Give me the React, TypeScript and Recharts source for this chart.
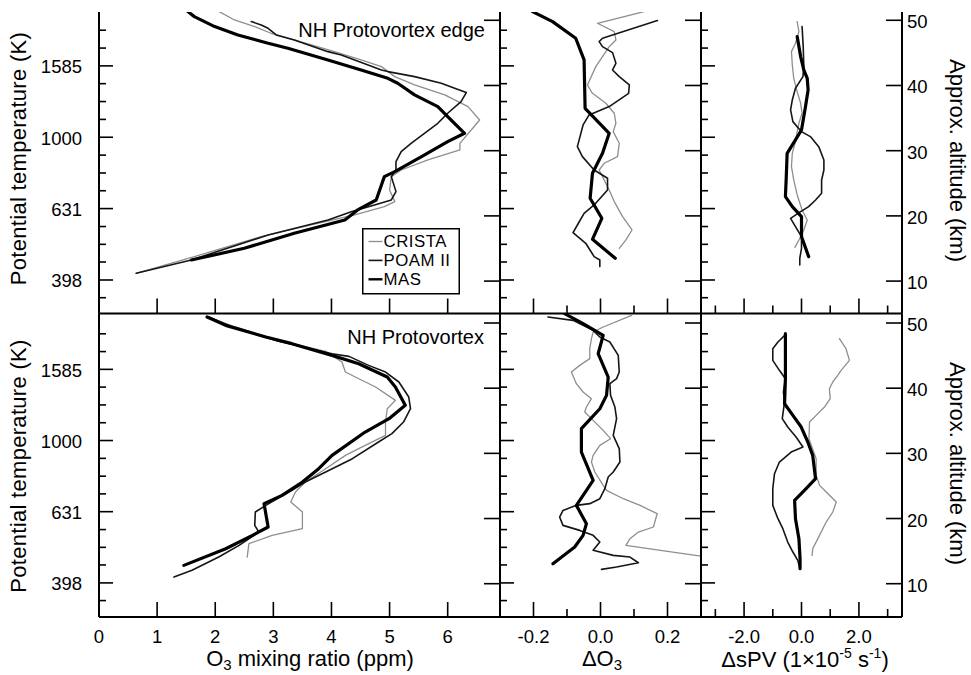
import React from 'react';
import { ScatterChart, Scatter, XAxis, YAxis, Legend } from 'recharts';

type Pt = [number, number]; // [value, approx. altitude in km]

const FONT = '"Liberation Sans", Arial, Helvetica, sans-serif';

// tick values
const thetaTicks = [355, 398, 447, 501, 562, 631, 708, 794, 891, 1000, 1122, 1259, 1413, 1585, 1778, 1995];
const thetaLabels = [398, 631, 1000, 1585];
const altTicks = [10, 20, 30, 40, 50];
const o3Ticks = [0, 1, 2, 3, 4, 5, 6];
const dO3Ticks = [-0.2, -0.1, 0, 0.1, 0.2];
const dO3Labels = [-0.2, 0, 0.2];
const dPvTicks = [-3, -2, -1, 0, 1, 2, 3];
const dPvLabels = [-2, 0, 2];

const seriesNames = ['CRISTA', 'POAM II', 'MAS'];

// NH Protovortex edge: O3 mixing ratio (ppm)
const edgeO3Crista: Pt[] = [[2.07, 51.33], [2.33, 50.05], [2.68, 49.03], [2.96, 48.01], [3.36, 46.98], [4.05, 45.19], [4.51, 43.92], [4.86, 42.89], [5.09, 41.36], [5.43, 40.08], [5.95, 38.55], [6.35, 36.76], [6.55, 34.71], [6.21, 31.13], [6.21, 30.11], [5.66, 28.58], [5.2, 27.04], [5.03, 26.02], [5.0, 23.98], [5.09, 22.19], [4.91, 21.42], [4.4, 20.14], [3.65, 18.61], [2.79, 16.82], [1.64, 13.75], [0.64, 11.2]];
const edgeO3Poam: Pt[] = [[2.62, 49.8], [2.79, 49.28], [2.91, 48.77], [3.05, 47.75], [3.36, 46.98], [3.94, 45.19], [4.17, 44.68], [4.4, 43.92], [4.86, 42.38], [4.97, 42.13], [5.43, 41.36], [5.89, 40.34], [6.12, 39.57], [6.32, 38.91], [6.23, 37.53], [6.0, 35.74], [5.83, 34.2], [5.6, 32.67], [5.37, 31.13], [5.2, 29.86], [5.11, 28.32], [5.11, 27.04], [5.03, 26.02], [5.11, 23.72], [5.03, 22.44], [4.74, 21.68], [4.34, 20.65], [3.94, 19.38], [2.91, 17.08], [1.59, 13.24], [0.64, 11.2]];
const edgeO3Mas: Pt[] = [[1.53, 51.33], [1.64, 50.56], [1.99, 49.03], [2.39, 47.75], [2.91, 46.47], [3.25, 45.71], [3.94, 43.92], [4.51, 42.38], [4.97, 41.1], [5.14, 40.34], [5.43, 38.55], [5.83, 36.76], [6.0, 35.22], [6.29, 32.67], [6.0, 31.39], [5.55, 29.09], [5.09, 26.79], [4.91, 26.02], [4.86, 24.74], [4.77, 22.44], [4.45, 20.91], [4.23, 19.38], [3.36, 17.33], [2.5, 15.03], [1.59, 13.24]];

// NH Protovortex edge: delta O3
const edgeDO3Crista: Pt[] = [[0.13, 51.33], [-0.009, 49.54], [0.041, 48.26], [0.046, 46.98], [0.026, 45.96], [-0.014, 42.89], [-0.039, 40.08], [-0.024, 38.8], [0.016, 37.27], [0.041, 35.74], [0.046, 34.2], [0.038, 32.92], [0.056, 31.13], [0.051, 29.09], [0.011, 28.07], [-0.004, 27.04], [0.006, 26.02], [0.026, 23.98], [0.041, 22.19], [0.066, 19.89], [0.094, 17.84], [0.076, 16.31], [0.056, 15.03]];
const edgeDO3Poam: Pt[] = [[0.17, 49.95], [0.006, 47.24], [-0.004, 46.73], [0.006, 45.96], [0.036, 45.04], [0.046, 43.4], [0.036, 42.38], [0.056, 41.36], [0.086, 40.08], [0.084, 38.8], [0.026, 36.76], [-0.034, 35.48], [-0.052, 33.95], [-0.069, 30.62], [-0.054, 29.09], [-0.019, 27.04], [0.021, 25.77], [0.021, 23.98], [-0.019, 21.68], [-0.049, 20.4], [-0.066, 18.87], [-0.082, 17.43], [-0.044, 15.8], [-0.019, 13.75], [-0.002, 13.24], [-0.002, 12.22]];
const edgeDO3Mas: Pt[] = [[-0.203, 51.33], [-0.143, 49.8], [-0.074, 47.24], [-0.049, 43.92], [-0.046, 36.5], [0.026, 32.67], [0.006, 29.6], [-0.024, 26.53], [-0.031, 22.7], [0.004, 19.63], [-0.024, 16.41], [0.044, 13.5]];

// NH Protovortex edge: delta sPV
const edgeDPvCrista: Pt[] = [[-0.15, 49.8], [-0.09, 48.26], [-0.21, 46.47], [-0.35, 45.19], [-0.32, 43.15], [-0.27, 41.1], [-0.15, 39.06], [-0.03, 37.27], [0.02, 35.74], [-0.09, 34.2], [-0.15, 32.92], [-0.21, 31.39], [-0.32, 29.6], [-0.35, 27.56], [-0.27, 25.51], [-0.15, 23.21], [0.02, 20.91], [0.2, 19.38], [0.08, 17.84], [-0.09, 16.31], [-0.23, 15.18]];
const edgeDPvPoam: Pt[] = [[0.02, 49.03], [0.06, 45.96], [0.08, 42.89], [0.05, 41.36], [-0.21, 39.57], [-0.32, 37.78], [-0.38, 36.25], [-0.3, 34.46], [0.0, 32.92], [0.31, 32.16], [0.6, 30.62], [0.78, 28.58], [0.78, 27.04], [0.7, 25.51], [0.7, 23.47], [0.49, 22.44], [0.25, 21.42], [-0.03, 20.65], [-0.38, 19.63], [-0.21, 18.35], [0.0, 16.82], [0.0, 15.03], [-0.06, 13.5], [-0.06, 12.47]];
const edgeDPvMas: Pt[] = [[-0.15, 47.49], [-0.03, 44.43], [0.08, 42.38], [0.2, 41.1], [0.23, 39.31], [0.14, 36.76], [0.0, 33.18], [-0.21, 31.65], [-0.5, 29.6], [-0.53, 26.02], [-0.56, 22.96], [-0.32, 21.42], [0.0, 19.89], [0.0, 16.82], [0.25, 13.75]];

// NH Protovortex: O3 mixing ratio (ppm)
const vortexO3Crista: Pt[] = [[1.89, 50.92], [2.35, 49.39], [3.09, 47.34], [3.9, 45.65], [4.18, 44.02], [4.24, 42.48], [4.41, 41.71], [4.76, 40.18], [5.1, 38.13], [4.96, 36.85], [4.93, 34.81], [4.93, 32.76], [4.58, 31.23], [4.24, 29.69], [3.9, 27.65], [3.55, 25.6], [3.38, 24.07], [3.3, 22.53], [3.5, 21.0], [3.5, 18.44], [2.98, 17.42], [2.58, 16.14], [2.55, 14.09]];
const vortexO3Poam: Pt[] = [[1.89, 50.92], [2.29, 49.39], [3.09, 47.19], [4.01, 45.29], [4.3, 44.88], [4.64, 43.5], [4.93, 42.48], [5.16, 40.95], [5.33, 38.64], [5.36, 36.85], [5.24, 34.81], [5.04, 33.02], [4.81, 31.74], [4.36, 29.18], [3.9, 27.14], [3.55, 25.6], [3.32, 24.32], [2.87, 22.02], [2.69, 21.0], [2.68, 18.95], [2.75, 17.93], [2.41, 15.88], [2.06, 14.09], [1.6, 12.05], [1.29, 11.02]];
const vortexO3Mas: Pt[] = [[1.86, 50.92], [2.18, 49.64], [2.87, 47.85], [3.32, 46.83], [4.01, 45.04], [4.47, 43.76], [4.96, 41.71], [5.1, 40.18], [5.27, 37.37], [4.99, 35.32], [4.58, 33.27], [4.01, 29.69], [3.78, 27.65], [3.5, 25.6], [3.15, 23.55], [2.84, 22.28], [2.91, 18.7], [2.64, 17.42], [2.18, 15.37], [1.46, 12.81]];

// NH Protovortex: delta O3
const vortexDO3Crista: Pt[] = [[0.093, 51.18], [0.008, 49.39], [-0.022, 48.62], [-0.027, 47.6], [-0.032, 46.06], [-0.032, 44.53], [-0.062, 43.5], [-0.087, 42.48], [-0.072, 40.69], [-0.052, 39.41], [-0.027, 38.39], [-0.042, 37.11], [-0.047, 36.34], [-0.022, 35.06], [0.008, 33.53], [0.03, 32.25], [-0.002, 31.23], [-0.022, 29.69], [-0.027, 28.67], [-0.017, 27.14], [0.008, 25.09], [0.018, 24.32], [0.068, 23.04], [0.118, 22.02], [0.169, 20.74], [0.158, 18.7], [0.113, 17.93], [0.088, 16.91], [0.076, 15.88], [0.179, 15.12], [0.305, 14.19]];
const vortexDO3Poam: Pt[] = [[-0.157, 50.92], [-0.082, 50.41], [-0.022, 48.87], [-0.002, 47.85], [0.028, 47.08], [0.053, 45.04], [0.056, 42.48], [0.048, 41.46], [0.028, 40.69], [0.03, 38.9], [0.043, 37.11], [0.048, 35.32], [0.038, 32.76], [0.056, 30.72], [0.058, 28.67], [0.038, 27.14], [0.023, 26.37], [0.013, 24.58], [-0.002, 23.04], [-0.032, 22.28], [-0.072, 22.02], [-0.112, 21.25], [-0.122, 20.23], [-0.112, 18.95], [-0.062, 18.18], [-0.022, 17.42], [-0.002, 16.39], [-0.022, 15.12], [0.038, 14.35], [0.088, 14.09], [0.113, 13.22], [0.048, 12.56], [0.003, 12.2]];
const vortexDO3Mas: Pt[] = [[-0.107, 51.43], [-0.052, 49.9], [0.008, 48.11], [-0.007, 45.29], [0.023, 41.71], [0.018, 38.9], [-0.002, 36.85], [-0.057, 33.79], [-0.057, 30.2], [-0.022, 25.86], [-0.072, 22.02], [-0.042, 19.21], [-0.052, 17.42], [-0.077, 15.63], [-0.142, 13.07]];

// NH Protovortex: delta sPV
const vortexDPvCrista: Pt[] = [[1.32, 47.6], [1.55, 46.06], [1.67, 44.27], [1.38, 42.74], [1.26, 41.97], [1.09, 40.95], [0.97, 39.92], [1.0, 38.39], [0.8, 37.11], [0.51, 35.83], [0.28, 34.81], [0.26, 32.25], [0.51, 29.18], [0.51, 26.62], [0.63, 25.09], [0.86, 24.07], [1.21, 22.53], [1.09, 21.0], [0.86, 19.46], [0.57, 16.91], [0.39, 15.37], [0.37, 14.35]];
const vortexDPvPoam: Pt[] = [[-0.56, 48.21], [-0.82, 47.08], [-1.0, 46.06], [-1.0, 44.27], [-0.77, 42.74], [-0.56, 41.46], [-0.63, 39.41], [-0.59, 37.88], [-0.67, 35.32], [-0.48, 34.04], [-0.19, 32.51], [0.05, 30.97], [-0.36, 30.2], [-0.77, 28.67], [-0.94, 26.88], [-1.0, 24.58], [-1.0, 22.02], [-0.82, 19.97], [-0.65, 18.44], [-0.48, 16.39], [-0.3, 14.86], [-0.13, 13.58], [-0.07, 12.56]];
const vortexDPvMas: Pt[] = [[-0.56, 48.36], [-0.56, 41.46], [-0.59, 37.62], [-0.3, 35.83], [-0.01, 34.04], [0.22, 31.74], [0.39, 29.69], [0.49, 26.11], [0.16, 24.58], [-0.24, 22.79], [-0.21, 19.97], [-0.09, 16.91], [-0.05, 13.84], [-0.05, 12.3]];

const STYLES = [
  { stroke: '#8e8e8e', width: 1.3 },
  { stroke: '#161616', width: 1.6 },
  { stroke: '#000000', width: 3.2 },
];

const PANELS: Pt[][][][] = [
  [
    [edgeO3Crista, edgeO3Poam, edgeO3Mas],
    [edgeDO3Crista, edgeDO3Poam, edgeDO3Mas],
    [edgeDPvCrista, edgeDPvPoam, edgeDPvMas],
  ],
  [
    [vortexO3Crista, vortexO3Poam, vortexO3Mas],
    [vortexDO3Crista, vortexDO3Poam, vortexDO3Mas],
    [vortexDPvCrista, vortexDPvPoam, vortexDPvMas],
  ],
];

const ROWS = [
  { top: 12, bottom: 313.5, mt: 4, bh: 4.5, theta: [320.6, 2244], alt: [5.03, 51.27], xLabels: false },
  { top: 313.5, bottom: 617, mt: 3.5, bh: 40, theta: [319.2, 2275], alt: [4.89, 51.46], xLabels: true },
];

const COLS = [
  { left: 99, right: 500, lw: 99, rw: 4, domain: [0, 6.9], ticks: o3Ticks, major: o3Ticks, digits: 0, thetaLabels: true, altLabels: false },
  { left: 500, right: 701, lw: 20, rw: 4, domain: [-0.3, 0.3], ticks: dO3Ticks, major: dO3Labels, digits: 1, thetaLabels: false, altLabels: false },
  { left: 701, right: 902, lw: 20, rw: 40, domain: [-3.5, 3.5], ticks: dPvTicks, major: dPvLabels, digits: 1, thetaLabels: false, altLabels: true },
];

const AXIS_LINE = { stroke: '#000', strokeWidth: 2 };
const TICK_STROKE = 1.6;

const toPts = (arr: Pt[]) => arr.map(([x, alt]) => ({ x, alt }));
const noDot = () => <g />;

function LegendBox() {
  return (
    <svg width={98} height={67} style={{ display: 'block' }}>
      <rect x={0.75} y={0.75} width={96.5} height={65} fill="#fff" stroke="#000" strokeWidth={1.5} />
      {seriesNames.map((name, i) => (
        <g key={name}>
          <line x1={6.5} x2={20.5} y1={13.5 + i * 18.9} y2={13.5 + i * 18.9} stroke={STYLES[i].stroke} strokeWidth={Math.min(STYLES[i].width, 2.4)} />
          <text x={21.6} y={19.2 + i * 18.9} fontSize={16.8} letterSpacing={0.5} fontFamily={FONT} fill="#000">{name}</text>
        </g>
      ))}
    </svg>
  );
}

function Panel({ c, r }: { c: number; r: number }) {
  const col = COLS[c];
  const row = ROWS[r];
  const plotW = col.right - col.left;
  const plotH = row.bottom - row.top;
  const width = col.lw + plotW + col.rw;
  const height = row.mt + plotH + row.bh;
  const edgeL = col.lw;
  const edgeR = col.lw + plotW;
  const edgeB = row.mt + plotH;

  const xTick = (p: any) => {
    const v = p.payload.value;
    const isMajor = col.major.includes(v);
    return (
      <g>
        <line x1={p.x} x2={p.x} y1={edgeB} y2={edgeB - (isMajor ? 15 : 8)} stroke="#000" strokeWidth={TICK_STROKE} />
        {row.xLabels && isMajor && (
          <text x={p.x} y={edgeB + 25.5} textAnchor="middle" fontSize={18.5} fontFamily={FONT} fill="#000">
            {v.toFixed(col.digits)}
          </text>
        )}
      </g>
    );
  };

  const thetaTick = (p: any) => {
    const v = p.payload.value;
    const isMajor = thetaLabels.includes(v);
    return (
      <g>
        <line x1={edgeL} x2={edgeL + (isMajor ? 14 : 7)} y1={p.y} y2={p.y} stroke="#000" strokeWidth={TICK_STROKE} />
        {col.thetaLabels && isMajor && (
          <text x={edgeL - 17} y={p.y + 7.5} textAnchor="end" fontSize={18.5} fontFamily={FONT} fill="#000">
            {v}
          </text>
        )}
      </g>
    );
  };

  const altTick = (p: any) => {
    const v = p.payload.value;
    return (
      <g>
        <line x1={edgeR} x2={edgeR - 16} y1={p.y} y2={p.y} stroke="#000" strokeWidth={TICK_STROKE} />
        {col.altLabels && (
          <text x={edgeR + 5} y={p.y + 8} textAnchor="start" fontSize={18.5} fontFamily={FONT} fill="#000">
            {v}
          </text>
        )}
      </g>
    );
  };

  const series = PANELS[r][c];

  return (
    <div style={{ position: 'absolute', left: col.left - col.lw, top: row.top - row.mt }}>
      <ScatterChart width={width} height={height} margin={{ top: row.mt, right: 0, bottom: 0, left: 0 }}>
        <XAxis
          xAxisId="x"
          dataKey="x"
          type="number"
          domain={col.domain}
          allowDataOverflow
          ticks={col.ticks}
          interval={0}
          height={row.bh}
          axisLine={AXIS_LINE}
          tickLine={false}
          tickSize={0}
          tickMargin={0}
          tick={xTick}
        />
        <XAxis
          xAxisId="top"
          orientation="top"
          type="number"
          domain={col.domain}
          allowDataOverflow
          height={0}
          axisLine={AXIS_LINE}
          tick={false}
          tickLine={false}
        />
        <YAxis
          yAxisId="theta"
          orientation="left"
          type="number"
          scale="log"
          domain={row.theta}
          allowDataOverflow
          ticks={thetaTicks}
          interval={0}
          width={col.lw}
          axisLine={AXIS_LINE}
          tickLine={false}
          tickSize={0}
          tickMargin={0}
          tick={thetaTick}
        />
        <YAxis
          yAxisId="alt"
          orientation="right"
          dataKey="alt"
          type="number"
          domain={row.alt}
          allowDataOverflow
          ticks={altTicks}
          interval={0}
          width={col.rw}
          axisLine={AXIS_LINE}
          tickLine={false}
          tickSize={0}
          tickMargin={0}
          tick={altTick}
        />
        {series.map((s, i) => (
          <Scatter
            key={seriesNames[i]}
            name={seriesNames[i]}
            xAxisId="x"
            yAxisId="alt"
            data={toPts(s)}
            fill="none"
            line={{ stroke: STYLES[i].stroke, strokeWidth: STYLES[i].width, strokeLinejoin: 'round', strokeLinecap: 'round' }}
            lineType="joint"
            lineJointType="linear"
            shape={noDot}
            isAnimationActive={false}
          />
        ))}
        {r === 0 && c === 0 && (
          <Legend
            layout="horizontal"
            verticalAlign="middle"
            align="center"
            wrapperStyle={{ left: 361.7, top: 227.7 - (row.top - row.mt), width: 98, height: 67 }}
            content={() => <LegendBox />}
          />
        )}
      </ScatterChart>
    </div>
  );
}

export default function App() {
  const title = { fontFamily: FONT, fontSize: 22, fill: '#000' } as const;
  return (
    <div style={{ position: 'absolute', left: 0, top: 0, width: 971, height: 675, background: '#fff', overflow: 'hidden' }}>
      {[0, 1].map((r) => [0, 1, 2].map((c) => <Panel key={`${r}-${c}`} r={r} c={c} />))}
      <svg width={971} height={675} style={{ position: 'absolute', left: 0, top: 0, pointerEvents: 'none' }}>
        <text {...title} letterSpacing={0.3} textAnchor="middle" transform="translate(26,158.5) rotate(-90)">Potential temperature (K)</text>
        <text {...title} letterSpacing={0.3} textAnchor="middle" transform="translate(26,466) rotate(-90)">Potential temperature (K)</text>
        <text {...title} textAnchor="middle" transform="translate(950,160.5) rotate(90)">Approx. altitude (km)</text>
        <text {...title} textAnchor="middle" transform="translate(950,463.5) rotate(90)">Approx. altitude (km)</text>
        <text {...title} x={310} y={666} textAnchor="middle">
          O<tspan fontSize={15} dy={4}>3</tspan><tspan dy={-4}> mixing ratio (ppm)</tspan>
        </text>
        <text {...title} x={602} y={666} textAnchor="middle">
          ΔO<tspan fontSize={15} dy={4}>3</tspan>
        </text>
        <text {...title} x={805} y={667} textAnchor="middle">
          ΔsPV (1×10<tspan fontSize={14} dy={-9}>-5</tspan><tspan dy={9}> s</tspan><tspan fontSize={14} dy={-9}>-1</tspan><tspan dy={9}>)</tspan>
        </text>
        <text x={485} y={36.7} textAnchor="end" fontFamily={FONT} fontSize={20} fill="#000">NH Protovortex edge</text>
        <text x={484} y={343.5} textAnchor="end" fontFamily={FONT} fontSize={20} fill="#000">NH Protovortex</text>
      </svg>
    </div>
  );
}
